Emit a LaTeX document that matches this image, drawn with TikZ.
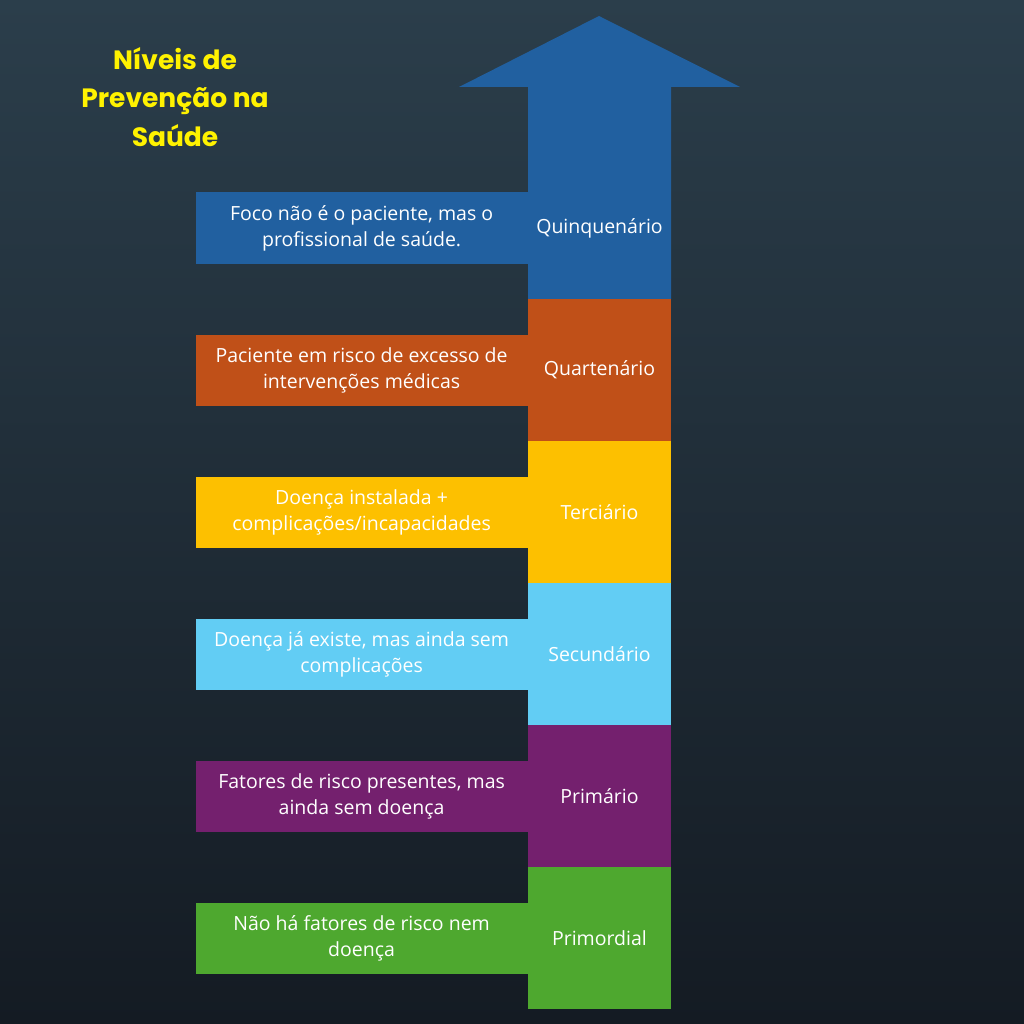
\documentclass[tikz,border=0pt]{standalone}
\usepackage{fontspec}
\setmainfont{Open Sans}
\newfontfamily\titlefont{Poppins}
\usetikzlibrary{positioning}
\definecolor{bgtop}{HTML}{2B3E4B}
\definecolor{bgbot}{HTML}{141B23}
\definecolor{cquin}{HTML}{2160A0}
\definecolor{cquar}{HTML}{C05018}
\definecolor{cterc}{HTML}{FDC000}
\definecolor{csecu}{HTML}{62CDF4}
\definecolor{cprim}{HTML}{74206E}
\definecolor{cpord}{HTML}{4EA82F}
\definecolor{ctitle}{HTML}{FFF200}
\tikzset{
  level/.style={minimum width=143pt, minimum height=142pt, inner sep=0pt,
                text=white, font=\fontsize{19.5}{24}\selectfont},
  desc/.style={minimum width=332pt, minimum height=71pt, inner sep=0pt,
               text=white, align=center,
               font=\fontsize{19.5}{26}\selectfont}
}
\begin{document}
\begin{tikzpicture}[x=1pt,y=-1pt]
        
        % --- background
        \shade[top color=bgtop, bottom color=bgbot] (0,0) rectangle (1024,1024);
        \useasboundingbox (0,0) rectangle (1024,1024);
        
        % --- title
        \node[text=ctitle, align=center, font=\titlefont\bfseries\fontsize{26.5}{38.5}\selectfont]
          (title) at (175,97) {Níveis de\\Prevenção na\\Saúde};
        
        % --- arrow head and top segment
        \fill[cquin] (459,87) -- (599,16) -- (740,87) -- (671,87) -- (671,299)
          -- (528,299) -- (528,87) -- cycle;
        \node[level, minimum height=212pt] (quin) at (599.5,228) {Quinquenário};
        
        % --- levels
        \foreach \name/\col/\y/\txt in {quar/cquar/370/Quartenário, terc/cterc/512/Terciário,
            secu/csecu/654/Secundário, prim/cprim/796/Primário, pord/cpord/938/Primordial}
          \node[level, fill=\col] (\name) at (599.5,\y) {\txt};
        
        % --- descriptions
        \node[desc, fill=cquin, left=0pt of quin] (dquin) {Foco não é o paciente, mas o\\profissional de saúde.};
        \node[desc, fill=cquar, left=0pt of quar] (dquar) {Paciente em risco de excesso de\\intervenções médicas};
        \node[desc, fill=cterc, left=0pt of terc] (dterc) {Doença instalada +\\complicações/incapacidades};
        \node[desc, fill=csecu, left=0pt of secu] (dsecu) {Doença já existe, mas ainda sem\\complicações};
        \node[desc, fill=cprim, left=0pt of prim] (dprim) {Fatores de risco presentes, mas\\ainda sem doença};
        \node[desc, fill=cpord, left=0pt of pord] (dpord) {Não há fatores de risco nem\\doença};
        
        \end{tikzpicture}
\end{document}
